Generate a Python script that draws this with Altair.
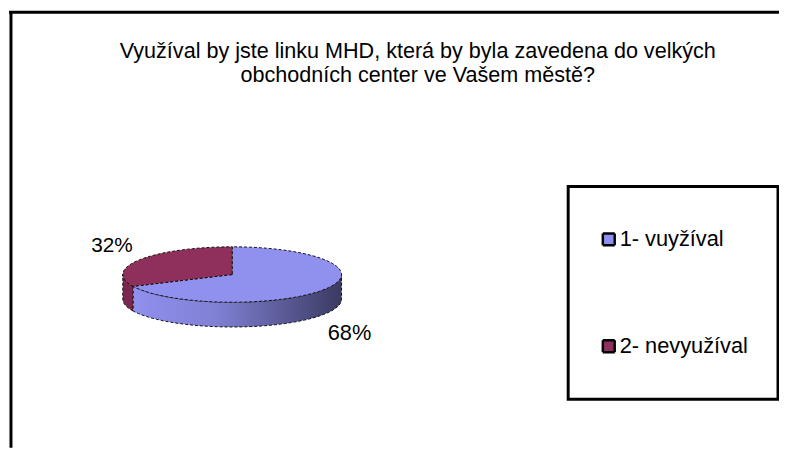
import math
import altair as alt

categories = ["1- vuyžíval", "2- nevyužíval"]
values = [68, 32]
labels = ["68%", "32%"]
colors = ["#9090EE", "#8E2F5C"]
side_maroon = "#7A2850"
title_lines = ["Využíval by jste linku MHD, která by byla zavedena do velkých",
               "obchodních center ve Vašem městě?"]

W, H = 779, 442
CX, CY, RX, RY, DEPTH = 226.5, 267, 110.5, 28, 25
STEP = 3


def pt(deg, dy=0):
    a = math.radians(deg)
    return [CX + RX * math.sin(a), CY - RY * math.cos(a) + dy]


def arc(a0, a1, dy=0):
    n = max(2, int(abs(a1 - a0) / STEP) + 1)
    return [pt(a0 + (a1 - a0) * i / (n - 1), dy) for i in range(n)]


def feature(ring, **props):
    ring = ring + [ring[0]]
    return {"type": "Feature", "properties": props,
            "geometry": {"type": "Polygon", "coordinates": [ring]}}


split = 360 * values[0] / sum(values)

proj = dict(type="identity", scale=1, translate=[0, 0])

tops = [
    feature([[CX, CY]] + arc(0, split), name=categories[0]),
    feature([[CX, CY]] + arc(split, 360), name=categories[1]),
]
wall_blue = [feature(arc(90, split) + arc(split, 90, DEPTH))]
wall_red = [feature(arc(split, 270) + arc(270, split, DEPTH))]

gradient = alt.Gradient(
    gradient="linear", x1=0, x2=1, y1=0, y2=0,
    stops=[alt.GradientStop(color="#9090EE", offset=0),
           alt.GradientStop(color="#8080D4", offset=0.4),
           alt.GradientStop(color="#3A3A62", offset=1)],
)

edge = dict(stroke="#111111", strokeWidth=1, strokeDash=[3, 2])

base_wall_blue = alt.Chart(alt.Data(values=wall_blue)).mark_geoshape(
    fill=gradient, **edge).project(**proj)
base_wall_red = alt.Chart(alt.Data(values=wall_red)).mark_geoshape(
    fill=side_maroon, **edge).project(**proj)

top = alt.Chart(alt.Data(values=tops)).mark_geoshape(**edge).encode(
    color=alt.Color(
        "properties.name:N",
        scale=alt.Scale(domain=categories, range=colors),
        legend=alt.Legend(
            title=None, orient="none", legendX=566, legendY=178,
            symbolType="square", symbolSize=144,
            symbolStrokeColor="#000000", symbolStrokeWidth=2.5,
            symbolDash=[1, 0],
            strokeColor="#000000", padding=30, rowPadding=61, clipHeight=47,
            labelFont="Liberation Sans", labelFontSize=22, labelColor="#000000",
            labelOffset=0, labelLimit=200,
        ),
    )
).project(**proj)

frame_top = alt.Chart(alt.Data(values=[{"a": 0}])).mark_rule(
    color="#000000", strokeWidth=3).encode(
    x=alt.value(1), x2=alt.value(W), y=alt.value(2))
frame_left = alt.Chart(alt.Data(values=[{"a": 0}])).mark_rule(
    color="#000000", strokeWidth=3).encode(
    x=alt.value(3), y=alt.value(1), y2=alt.value(H))

text68 = alt.Chart(alt.Data(values=[{"t": labels[0]}])).mark_text(
    font="Liberation Sans", fontSize=22, color="#000000").encode(
    text="t:N", x=alt.value(345), y=alt.value(326))
text32 = alt.Chart(alt.Data(values=[{"t": labels[1]}])).mark_text(
    font="Liberation Sans", fontSize=21, color="#000000").encode(
    text="t:N", x=alt.value(105), y=alt.value(238.5))

chart = alt.layer(
    frame_top, frame_left, base_wall_red, base_wall_blue, top, text68, text32
).properties(
    width=W, height=H, padding=0, autosize=alt.AutoSizeParams(type="none"),
    title=alt.Title(
        text=title_lines, font="Liberation Sans", fontSize=21.8, fontWeight="normal",
        color="#000000", anchor="start", frame="group", align="center",
        dx=414, dy=82, lineHeight=24,
    ),
    background="white",
).configure_view(stroke=None).configure_legend(strokeWidth=3)

chart.save("out.html", embed_options={"renderer": "svg", "actions": False})
